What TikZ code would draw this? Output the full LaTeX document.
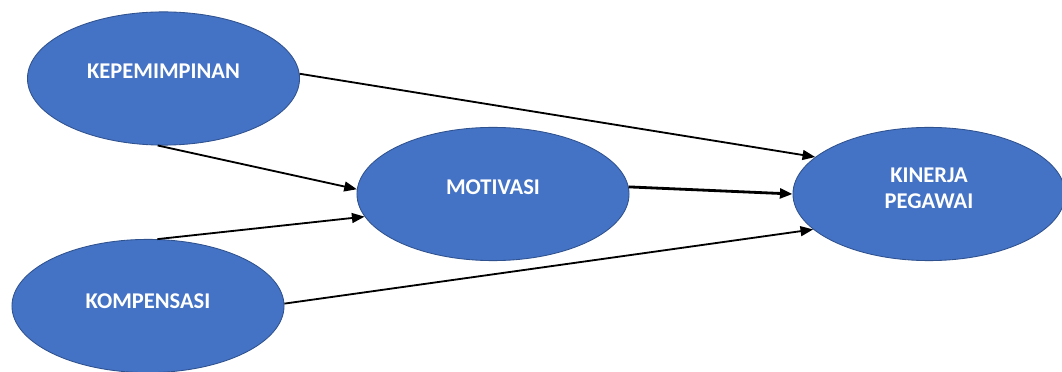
\documentclass[tikz,border=0pt]{standalone}
\usepackage{fontspec}
\setmainfont{Carlito}
\usepackage{tikz}
\usetikzlibrary{arrows.meta,shapes.geometric}
\definecolor{varfill}{HTML}{4472C4}
\definecolor{varline}{HTML}{2F528F}

\begin{document}
\begin{tikzpicture}[x=0.025cm, y=-0.025cm,
  var/.style={ellipse, draw=varline, fill=varfill, line width=0.6pt,
    minimum width=6.8cm, minimum height=3.33cm, inner sep=0pt},
  vname/.style={text=white, font=\fontsize{16}{18.5}\selectfont\bfseries, align=center, inner sep=0pt},
  path/.style={line width=1.3pt, -{Triangle[length=9pt, width=7pt]}}]
  \useasboundingbox (0,0) rectangle (1062,372);
  % variables
  \node[var] (kep) at (163.5,78.5) {};
  \node[var] (mot) at (493,194) {};
  \node[var] (kin) at (929,194) {};
  \node[var] (kom) at (148,306) {};
  \node[vname] (kep-t) at (163.5,71) {KEPEMIMPINAN};
  \node[vname] (mot-t) at (493,187.5) {MOTIVASI};
  \node[vname] (kin-t) at (929,188) {KINERJA\\PEGAWAI};
  \node[vname] (kom-t) at (148,301.5) {KOMPENSASI};
  % paths
  \draw[path] (kep.2) -- (kin.162);
  \draw[path] (kep.-95) -- (mot.178);
  \draw[path] (kom.82) -- (mot.190);
  \draw[path, line width=2pt] (mot.3) -- (kin.180);
  \draw[path] (kom.1) -- (kin.197);
\end{tikzpicture}
\end{document}
